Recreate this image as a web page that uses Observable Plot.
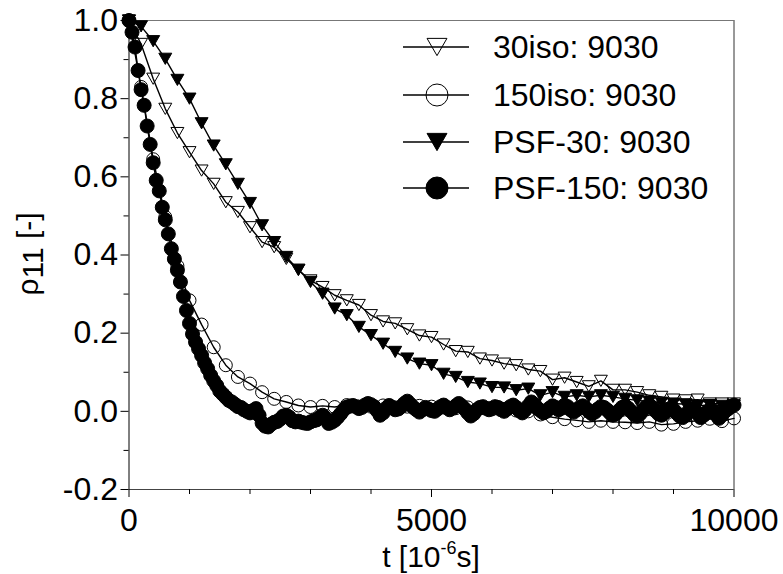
<!DOCTYPE html>
<html><head><meta charset="utf-8">
<script src="https://cdn.jsdelivr.net/npm/d3@7"></script>
<script src="https://cdn.jsdelivr.net/npm/@observablehq/plot@0.6"></script>
<style>
body{margin:0;background:#fff;}
#wrap{position:relative;width:783px;height:574px;font-family:"Liberation Sans",Arial,sans-serif;}
</style></head><body><div id="wrap"></div>
<script>
const seriesNames = ["30iso: 9030", "150iso: 9030", "PSF-30: 9030", "PSF-150: 9030"];
// sampling grids (µs)
const t200 = d3.range(0, 10001, 200);
const t50 = d3.range(0, 10001, 50);

const iso30 = [1.0, 0.940, 0.851, 0.774, 0.712, 0.663, 0.616, 0.582, 0.535, 0.510,
  0.471, 0.433, 0.420, 0.390, 0.362, 0.335, 0.318, 0.297, 0.284, 0.272,
  0.246, 0.230, 0.225, 0.210, 0.194, 0.190, 0.171, 0.154, 0.152, 0.135,
  0.130, 0.122, 0.118, 0.107, 0.103, 0.081, 0.086, 0.075, 0.064, 0.078,
  0.055, 0.055, 0.049, 0.041, 0.037, 0.030, 0.028, 0.030, 0.020, 0.020, 0.020];

const iso150 = [1.0, 0.830, 0.645, 0.497, 0.372, 0.284, 0.222, 0.164, 0.118, 0.088,
  0.071, 0.049, 0.032, 0.024, 0.015, 0.011, 0.014, 0.011, 0.016, 0.012,
  0.012, 0.015, 0.010, 0.012, 0.014, 0.012, 0.010, 0.008, 0.010, 0.008,
  0.005, 0.006, 0.002, 0.000, -0.008, -0.015, -0.020, -0.023, -0.027, -0.024,
  -0.027, -0.028, -0.030, -0.027, -0.034, -0.032, -0.027, -0.024, -0.019, -0.025, -0.018];

const psf30 = [1.0, 0.985, 0.947, 0.902, 0.848, 0.800, 0.737, 0.680, 0.632, 0.582,
  0.533, 0.476, 0.433, 0.395, 0.362, 0.331, 0.301, 0.263, 0.246, 0.216,
  0.195, 0.173, 0.152, 0.135, 0.122, 0.118, 0.096, 0.088, 0.075, 0.071,
  0.062, 0.061, 0.054, 0.058, 0.041, 0.049, 0.037, 0.041, 0.037, 0.041,
  0.037, 0.032, 0.028, 0.025, 0.022, 0.020, 0.018, 0.015, 0.016, 0.014, 0.015];

const psf150 = [
  1.0, 0.970, 0.932, 0.872, 0.823, 0.783, 0.730, 0.683, 0.636, 0.591,
  0.564, 0.522, 0.490, 0.454, 0.416, 0.390, 0.361, 0.331, 0.294,
  0.258, 0.225, 0.198, 0.177, 0.160, 0.143, 0.124, 0.109, 0.092, 0.078,
  0.066, 0.052, 0.044, 0.036, 0.028, 0.024, 0.018, 0.012, 0.010, 0.004, 0.000, -0.004,
  0.002, 0.007, -0.010, -0.030, -0.038, -0.040, -0.033, -0.028, -0.026, -0.020,
  -0.012, -0.010, -0.015, -0.024, -0.027, -0.025, -0.028, -0.030, -0.031, -0.027,
  -0.024, -0.022, -0.016, -0.010, -0.018, -0.031, -0.028, -0.023, -0.015, -0.006,
  0.004, 0.011, 0.013, 0.015, 0.012, 0.007, 0.010, 0.016, 0.020, 0.017,
  0.012, 0.002, -0.010, -0.004, 0.008, 0.015, 0.010, 0.004, 0.006, 0.012,
  0.020, 0.026, 0.018, 0.010, 0.004, -0.002, 0.004, 0.010, 0.006, 0.002,
  0.000, 0.006, 0.012, 0.016, 0.010, 0.004, 0.008, 0.014, 0.020, 0.014,
  0.006, -0.004, -0.012, -0.006, 0.004, 0.010, 0.012, 0.008, 0.004, 0.008,
  0.012, 0.010, 0.004, 0.000, 0.006, 0.012, 0.016, 0.010, 0.002, -0.004,
  0.004, 0.014, 0.024, 0.018, 0.008, 0.002, -0.004, 0.000, 0.008, 0.014,
  0.010, 0.004, 0.008, 0.016, 0.012, 0.004, -0.002, 0.004, 0.010, 0.014,
  0.008, 0.000, -0.006, -0.002, 0.006, 0.012, 0.010, 0.004, -0.004, -0.010,
  -0.006, 0.002, 0.010, 0.014, 0.008, 0.000, -0.008, -0.012, -0.006, 0.004,
  0.012, 0.016, 0.010, 0.002, -0.006, -0.010, -0.004, 0.004, 0.008, 0.004,
  -0.004, -0.012, -0.016, -0.010, 0.000, 0.008, 0.004, -0.006, -0.016, -0.010,
  -0.002, 0.004, 0.002, -0.008, -0.018, -0.010, 0.000, 0.006, 0.012, 0.016];

const xMajor = [0, 5000, 10000];
const xMinor = [1000, 2000, 3000, 4000, 6000, 7000, 8000, 9000];
const yMajor = [-0.2, 0.0, 0.2, 0.4, 0.6, 0.8, 1.0];
const yMinor = [-0.1, 0.1, 0.3, 0.5, 0.7, 0.9];

const rows = (ts, vs) => vs.map((v, i) => ({t: ts[i], v}));
const d30 = rows(t200, iso30), d150 = rows(t200, iso150), p30 = rows(t200, psf30), p150 = rows(t50, psf150);

// down-pointing triangle symbol, centred on its bounding box
const triDown = {
  draw(ctx, size) {
    const R = Math.sqrt(size / Math.PI) * 1.15;
    const h = 0.75 * R, w = R * Math.sqrt(3) / 2;
    ctx.moveTo(0, h); ctx.lineTo(-w, -h); ctx.lineTo(w, -h); ctx.closePath();
  }
};

const FONT = '"Liberation Sans", Arial, sans-serif';
const chart = Plot.plot({
  width: 783, height: 574,
  marginLeft: 128.5, marginRight: 49.5, marginTop: 20, marginBottom: 85,
  x: {domain: [0, 10000]},
  y: {domain: [-0.2, 1.0]},
  style: {fontFamily: FONT, background: "white", color: "black", overflow: "visible"},
  marks: [
    Plot.ruleY([1.0], {stroke: "#777", strokeWidth: 1}),
    Plot.ruleX([10000], {stroke: "#333", strokeWidth: 1}),
    Plot.line(d30, {x: "t", y: "v", stroke: "black", strokeWidth: 1.4}),
    Plot.dot(d30, {x: "t", y: "v", symbol: triDown, r: 6.5, stroke: "black", fill: "none", strokeWidth: 1}),
    Plot.line(d150, {x: "t", y: "v", stroke: "black", strokeWidth: 1.4}),
    Plot.dot(d150, {x: "t", y: "v", symbol: "circle", r: 6.5, stroke: "black", fill: "none", strokeWidth: 1}),
    Plot.line(p30, {x: "t", y: "v", stroke: "black", strokeWidth: 1.4}),
    Plot.dot(p30, {x: "t", y: "v", symbol: triDown, r: 6.5, stroke: "black", fill: "black", strokeWidth: 1}),
    Plot.line(p150, {x: "t", y: "v", stroke: "black", strokeWidth: 1.4}),
    Plot.dot(p150, {x: "t", y: "v", symbol: "circle", r: 7, stroke: "black", fill: "black", strokeWidth: 1}),
    Plot.ruleY([-0.2], {stroke: "#444", strokeWidth: 1}),
    Plot.ruleX([0], {stroke: "black", strokeWidth: 1}),
    Plot.axisX({ticks: xMajor, tickSize: 8, tickPadding: 11, fontSize: 32, tickFormat: d => String(d), label: null, strokeWidth: 1}),
    Plot.axisX({ticks: xMinor, tickSize: 5, tickFormat: () => "", label: null, strokeWidth: 1}),
    Plot.axisY({ticks: yMajor, tickSize: 8, tickPadding: 3, fontSize: 32, tickFormat: d => d.toFixed(1), label: null, strokeWidth: 1}),
    Plot.axisY({ticks: yMinor, tickSize: 5, tickFormat: () => "", label: null, strokeWidth: 1})
  ]
});
document.getElementById("wrap").appendChild(chart);

// axis titles
const svg = d3.select(chart);
const xl = svg.append("text").attr("x", 431).attr("y", 567).attr("text-anchor", "middle")
  .attr("font-family", FONT).attr("font-size", 30).attr("fill", "black");
xl.append("tspan").text("t [10");
xl.append("tspan").attr("font-size", 18).attr("dy", -13).text("-6");
xl.append("tspan").attr("dy", 13).text("s]");

const yl = svg.append("text").attr("transform", "translate(38,254) rotate(-90)").attr("text-anchor", "middle")
  .attr("font-family", FONT).attr("font-size", 30).attr("fill", "black");
yl.append("tspan").text("ρ");
yl.append("tspan").attr("dy", 5).text("11");
yl.append("tspan").attr("dy", -5).text(" [-]");

// legend
const legendRows = [
  {name: seriesNames[0], sym: "tri", fill: "none"},
  {name: seriesNames[1], sym: "circ", fill: "none"},
  {name: seriesNames[2], sym: "tri", fill: "black"},
  {name: seriesNames[3], sym: "circ", fill: "black"}
];
const rowY = [47, 95, 142, 188];
const lg = svg.append("g");
legendRows.forEach((r, i) => {
  const y = rowY[i];
  lg.append("line").attr("x1", 403).attr("x2", 469).attr("y1", y).attr("y2", y).attr("stroke", "black").attr("stroke-width", 1.4);
  if (r.sym === "circ") {
    lg.append("circle").attr("cx", 437).attr("cy", y).attr("r", 11).attr("fill", r.fill === "none" ? "none" : "black").attr("stroke", "black");
  } else {
    const R = 11.5, h = 0.75 * R, w = R * Math.sqrt(3) / 2;
    lg.append("path").attr("d", `M${437},${y + h}L${437 - w},${y - h}L${437 + w},${y - h}Z`)
      .attr("fill", r.fill === "none" ? "none" : "black").attr("stroke", "black");
  }
  lg.append("text").attr("x", 493).attr("y", y + 11).attr("text-anchor", "start")
    .attr("font-family", FONT).attr("font-size", 32).attr("fill", "black").text(r.name);
});
</script></body></html>
